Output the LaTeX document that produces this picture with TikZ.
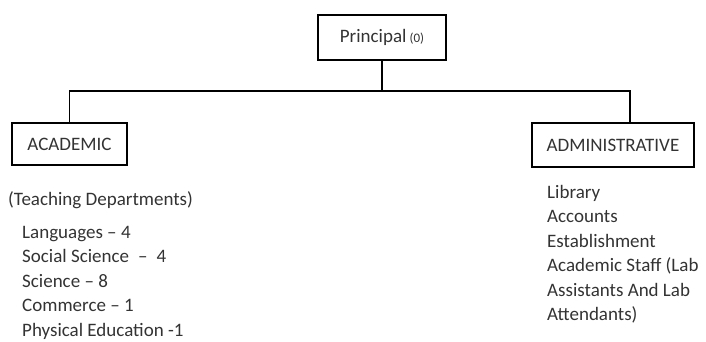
\documentclass[tikz,border=0pt]{standalone}
\usepackage{fontspec}
\setmainfont{Carlito}
\usetikzlibrary{positioning}
\usetikzlibrary{calc}

\tikzset{
  unitbox/.style={draw=black, line width=1.6pt, text=black!80, inner sep=0pt},
  listtext/.style={text=black!80, anchor=base west, inner sep=0pt},
  link/.style={draw=black, line width=1.6pt}
}

\begin{document}
\begin{tikzpicture}[x=1pt, y=-1pt, font=\fontsize{19}{25}\selectfont]
  \useasboundingbox (0,0) rectangle (706,342);
  % boxes
  \node[unitbox, minimum width=128pt, minimum height=45pt] (principal) at (382,37.5) {Principal\,{\fontsize{13}{13}\selectfont(0)}};
  \node[unitbox, minimum width=115pt, minimum height=42pt] (academic) at (69.5,144) {ACADEMIC};
  \node[unitbox, minimum width=162pt, minimum height=44pt] (admin) at (613,145) {ADMINISTRATIVE};
  % connectors
  \coordinate (junction) at (382,91);
  \draw[link] (principal.south) -- (junction);
  \draw[link] (academic.north) |- (junction) -| ([xshift=17pt]admin.north);
  % academic side
  \node[listtext] (teaching) at (8,205) {(Teaching Departments)};
  \foreach [count=\i] \t in {Languages -- 4, Social Science\hspace{9pt}--\hspace{9pt}4, Science -- 8, Commerce -- 1, Physical Education -1}
    \node[listtext] (dept\i) at (22,{213.5+24.5*\i}) {\t};
  % administrative side
  \foreach [count=\i] \t in {Library, Accounts, Establishment, Academic Staff (Lab, Assistants And Lab, Attendants)}
    \node[listtext] (office\i) at (547,{174+24.4*\i}) {\t};
\end{tikzpicture}
\end{document}
